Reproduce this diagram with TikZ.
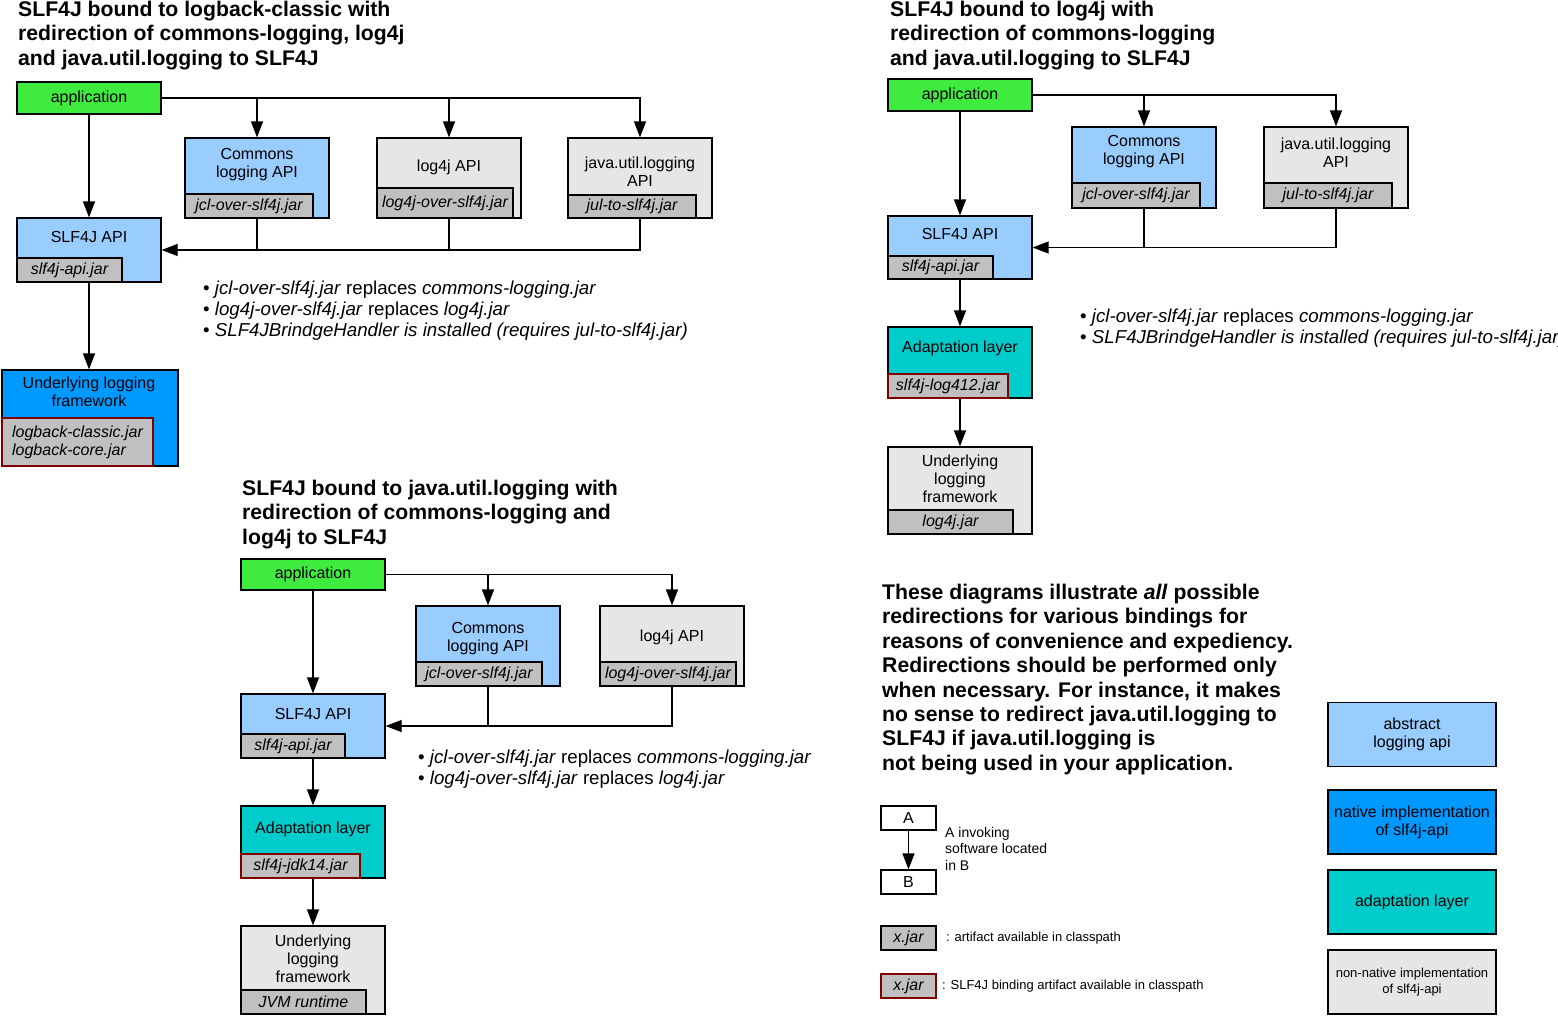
\documentclass[tikz,border=0pt]{standalone}
\usepackage{fontspec}
\setmainfont{Liberation Sans}
\usetikzlibrary{arrows.meta}
\definecolor{AppGreen}{RGB}{64,235,64}
\definecolor{ApiBlue}{RGB}{153,204,255}
\definecolor{NativeBlue}{RGB}{0,153,255}
\definecolor{AdaptCyan}{RGB}{0,204,204}
\definecolor{NonGray}{RGB}{230,230,230}
\definecolor{JarGray}{RGB}{192,192,192}
\definecolor{BindRed}{RGB}{128,0,0}
\newcommand\boxtxt{\fontsize{16}{18}\selectfont}
\newcommand\jartxt{\fontsize{16}{18}\selectfont\itshape}
\newcommand\notetxt{\fontsize{18.7}{21}\selectfont}
\newcommand\headtxt{\fontsize{21.2}{24.4}\selectfont\bfseries}
\newcommand\smalltxt{\fontsize{14}{16.5}\selectfont}
\newcommand\tinytxt{\fontsize{13}{16}\selectfont}
\tikzset{
  comp/.style={draw=black,line width=1.2pt,minimum width=144,inner sep=0pt},
  apibox/.style={comp,fill=ApiBlue},
  natbox/.style={comp,fill=NativeBlue},
  adabox/.style={comp,fill=AdaptCyan},
  nonbox/.style={comp,fill=NonGray},
  appbox/.style={comp,fill=AppGreen,minimum height=32,font=\boxtxt},
  plainbox/.style={comp,fill=white,minimum width=55,minimum height=24,font=\boxtxt},
  jar/.style={draw=black,line width=1.2pt,fill=JarGray,minimum height=24,
    inner sep=0pt,font=\jartxt,anchor=south west},
  binding/.style={jar,draw=BindRed},
  lbl/.style={align=center,font=\boxtxt,inner sep=0pt},
  headline/.style={anchor=north west,align=left,font=\headtxt,inner sep=0pt},
  notes/.style={anchor=north west,align=left,font=\notetxt,inner sep=0pt},
  arrow/.style={-{Triangle[width=12pt,length=16pt]},line width=1.2pt},
  link/.style={line width=1.2pt}
}
\begin{document}
\begin{tikzpicture}[x=1pt,y=-1pt]
\useasboundingbox (0,0) rectangle (1558,1015);
% logback-classic
\node[headline] (h1) at (18,1) {SLF4J bound to logback-classic with\\redirection of commons-logging, log4j\\and java.util.logging to SLF4J};
\node[appbox] (app1) at (89,98) {application};
\node[apibox,minimum height=80] (cl1) at (257,178) {};
\node[jar,minimum width=128] (cl1j) at (cl1.south west) {jcl-over-slf4j.jar};
\node[lbl] (cl1t) at (257,165) {Commons\\logging API};
\node[nonbox,minimum height=80] (l4j1) at (449,178) {};
\node[jar,minimum width=136,minimum height=30] (l4j1j) at (l4j1.south west) {log4j-over-slf4j.jar};
\node[lbl] (l4j1t) at (449,167) {log4j API};
\node[nonbox,minimum height=80] (jul1) at (640,178) {};
\node[jar,minimum width=128,minimum height=23] (jul1j) at (jul1.south west) {jul-to-slf4j.jar};
\node[lbl] (jul1t) at (640,172) {java.util.logging\\API};
\node[apibox,minimum height=64] (slf1) at (89,250) {};
\node[jar,minimum width=105] (slf1j) at (slf1.south west) {slf4j-api.jar};
\node[lbl] (slf1t) at (89,236.5) {SLF4J API};
\node[natbox,minimum width=176,minimum height=96] (und1) at (90,418) {};
\node[binding,minimum width=151,minimum height=48,align=left] (und1j) at (und1.south west) {logback-classic.jar\\logback-core.jar};
\node[lbl] (und1t) at (89,392) {Underlying logging\\framework};
\draw[arrow] (app1.east) -| (jul1.north);
\draw[arrow] (app1.east -| cl1.north) -- (cl1.north);
\draw[arrow] (app1.east -| l4j1.north) -- (l4j1.north);
\draw[arrow] (app1.south) -- (slf1.north);
\draw[arrow] (jul1.south) |- (slf1.east);
\draw[link] (cl1.south) -- (cl1.south |- slf1.east);
\draw[link] (l4j1.south) -- (l4j1.south |- slf1.east);
\draw[arrow] (slf1.south) -- (slf1.south |- und1.north);
\node[notes] (n1) at (203,281) {\textbullet\ \textit{jcl-over-slf4j.jar} replaces \textit{commons-logging.jar}\\
  \textbullet\ \textit{log4j-over-slf4j.jar} replaces \textit{log4j.jar}\\
  \textbullet\ \textit{SLF4JBrindgeHandler is installed (requires jul-to-slf4j.jar)}};
% log4j
\node[headline] (h2) at (890,1) {SLF4J bound to log4j with\\redirection of commons-logging\\and java.util.logging to SLF4J};
\node[appbox] (app2) at (960,95) {application};
\node[apibox,minimum height=81] (cl2) at (1144,167.5) {};
\node[jar,minimum width=128,minimum height=25] (cl2j) at (cl2.south west) {jcl-over-slf4j.jar};
\node[lbl] (cl2t) at (1144,152) {Commons\\logging API};
\node[nonbox,minimum height=81] (jul2) at (1336,167.5) {};
\node[jar,minimum width=128,minimum height=25] (jul2j) at (jul2.south west) {jul-to-slf4j.jar};
\node[lbl] (jul2t) at (1336,152.5) {java.util.logging\\API};
\node[apibox,minimum height=63] (slf2) at (960,247.5) {};
\node[jar,minimum width=105,minimum height=23] (slf2j) at (slf2.south west) {slf4j-api.jar};
\node[lbl] (slf2t) at (960,233.5) {SLF4J API};
\node[adabox,minimum height=71] (ada2) at (960,362.5) {};
\node[binding,minimum width=120] (ada2j) at (ada2.south west) {slf4j-log412.jar};
\node[lbl] (ada2t) at (960,348) {Adaptation layer};
\node[nonbox,minimum height=87] (und2) at (960,490.5) {};
\node[jar,minimum width=125] (und2j) at (und2.south west) {log4j.jar};
\node[lbl] (und2t) at (960,479) {Underlying\\logging\\framework};
\draw[arrow] (app2.east) -| (jul2.north);
\draw[arrow] (app2.east -| cl2.north) -- (cl2.north);
\draw[arrow] (app2.south) -- (slf2.north);
\draw[arrow] (jul2.south) |- (slf2.east);
\draw[link] (cl2.south) -- (cl2.south |- slf2.east);
\draw[arrow] (slf2.south) -- (ada2.north);
\draw[arrow] (ada2.south) -- (und2.north);
\node[notes] (n2) at (1080,309) {\textbullet\ \textit{jcl-over-slf4j.jar} replaces \textit{commons-logging.jar}\\
  \textbullet\ \textit{SLF4JBrindgeHandler is installed (requires jul-to-slf4j.jar)}};
% java.util.logging
\node[headline] (h3) at (242,480) {SLF4J bound to java.util.logging with\\redirection of commons-logging and\\log4j to SLF4J};
\node[appbox,minimum height=31] (app3) at (313,574.5) {application};
\node[apibox,minimum height=80] (cl3) at (488,646) {};
\node[jar,minimum width=126] (cl3j) at (cl3.south west) {jcl-over-slf4j.jar};
\node[lbl] (cl3t) at (488,639) {Commons\\logging API};
\node[nonbox,minimum height=80] (l4j3) at (672,646) {};
\node[jar,minimum width=136] (l4j3j) at (l4j3.south west) {log4j-over-slf4j.jar};
\node[lbl] (l4j3t) at (672,637) {log4j API};
\node[apibox,minimum height=64] (slf3) at (313,726) {};
\node[jar,minimum width=104] (slf3j) at (slf3.south west) {slf4j-api.jar};
\node[lbl] (slf3t) at (313,713.5) {SLF4J API};
\node[adabox,minimum height=72] (ada3) at (313,842) {};
\node[binding,minimum width=119] (ada3j) at (ada3.south west) {slf4j-jdk14.jar};
\node[lbl] (ada3t) at (313,829) {Adaptation layer};
\node[nonbox,minimum height=88] (und3) at (313,970) {};
\node[jar,minimum width=125] (und3j) at (und3.south west) {JVM runtime};
\node[lbl] (und3t) at (313,958.5) {Underlying\\logging\\framework};
\draw[arrow] (app3.east) -| (l4j3.north);
\draw[arrow] (app3.east -| cl3.north) -- (cl3.north);
\draw[arrow] (app3.south) -- (slf3.north);
\draw[arrow] (l4j3.south) |- (slf3.east);
\draw[link] (cl3.south) -- (cl3.south |- slf3.east);
\draw[arrow] (slf3.south) -- (ada3.north);
\draw[arrow] (ada3.south) -- (und3.north);
\node[notes] (n3) at (418,750) {\textbullet\ \textit{jcl-over-slf4j.jar} replaces \textit{commons-logging.jar}\\
  \textbullet\ \textit{log4j-over-slf4j.jar} replaces \textit{log4j.jar}};
% remarks and legend
\node[headline] (rem) at (882,584) {These diagrams illustrate \textit{all} possible\\redirections for various bindings for\\reasons of convenience and expediency.\\Redirections should be performed only\\when necessary. For instance, it makes\\no sense to redirect java.util.logging to\\SLF4J if java.util.logging is\\not being used in your application.};
\node[plainbox] (la) at (908.5,818) {A};
\node[plainbox] (lb) at (908.5,882) {B};
\draw[arrow] (la.south) -- (lb.north);
\node[anchor=north west,align=left,font=\smalltxt,inner sep=0pt] (lab) at (945,827) {A invoking\\software located\\in B};
\node[jar,anchor=center,minimum width=55] (lx1) at (908.5,938) {x.jar};
\node[anchor=west,font=\tinytxt,inner sep=0pt] (lx1t) at (946,938) {: artifact available in classpath};
\node[binding,anchor=center,minimum width=55] (lx2) at (908.5,986) {x.jar};
\node[anchor=west,font=\tinytxt,inner sep=0pt] (lx2t) at (942,986) {: SLF4J binding artifact available in classpath};
\node[apibox,minimum width=168,minimum height=64,align=center,font=\boxtxt] (k1) at (1412,734.5) {abstract\\logging api};
\node[natbox,minimum width=168,minimum height=64,align=center,font=\boxtxt] (k2) at (1412,822) {native implementation\\of slf4j-api};
\node[adabox,minimum width=168,minimum height=64,align=center,font=\boxtxt] (k3) at (1412,902) {adaptation layer};
\node[nonbox,minimum width=168,minimum height=64,align=center,font=\tinytxt] (k4) at (1412,982) {non-native implementation\\of slf4j-api};
\end{tikzpicture}
\end{document}
